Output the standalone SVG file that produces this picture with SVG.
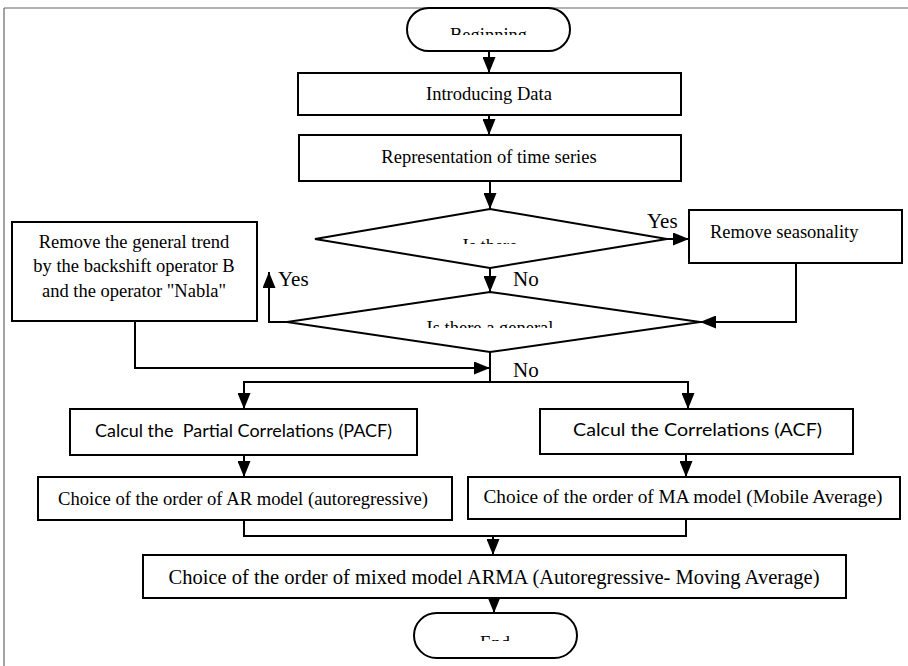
<svg xmlns="http://www.w3.org/2000/svg" width="908" height="666" viewBox="0 0 908 666">
<style>
.box{fill:#fff;stroke:#000;stroke-width:2}
.t{font-family:"Liberation Serif","Times New Roman",serif;font-size:18.5px;fill:#000;text-anchor:middle}
.s{font-family:Lato,"Liberation Sans",sans-serif;font-size:17px;fill:#000;text-anchor:middle}
.lbl{font-family:"Liberation Serif","Times New Roman",serif;font-size:21px;fill:#000}
.c{fill:none;stroke:#000;stroke-width:2}
.frame{fill:none;stroke:#666;stroke-width:1.2}
</style>
<defs>
<marker id="ah" markerUnits="userSpaceOnUse" markerWidth="16" markerHeight="13" refX="16" refY="6.5" orient="auto">
<path d="M0,0 L16,6.5 L0,13 z" fill="#000"/>
</marker>
<clipPath id="cBeg"><rect x="400" y="0" width="180" height="35"/></clipPath>
<clipPath id="cD1"><rect x="400" y="230" width="180" height="14"/></clipPath>
<clipPath id="cD2"><rect x="400" y="310" width="180" height="18"/></clipPath>
<clipPath id="cEnd"><rect x="400" y="620" width="180" height="21"/></clipPath>
</defs>
<g id="frame">
<line class="frame" x1="4" y1="8" x2="908" y2="8"/>
<line class="frame" x1="4" y1="8" x2="4" y2="666"/>
</g>
<g id="connectors">
<line class="c" x1="489" y1="51" x2="489" y2="73" marker-end="url(#ah)"/>
<line class="c" x1="489" y1="115" x2="489" y2="135" marker-end="url(#ah)"/>
<line class="c" x1="490" y1="181" x2="490" y2="209" marker-end="url(#ah)"/>
<line class="c" x1="667" y1="239" x2="689" y2="239" marker-end="url(#ah)"/>
<polyline class="c" points="796,263 796,322 700,322" marker-end="url(#ah)"/>
<line class="c" x1="490" y1="268" x2="490" y2="292" marker-end="url(#ah)"/>
<polyline class="c" points="287,322 269,322 269,272" marker-end="url(#ah)"/>
<polyline class="c" points="135,321 135,368 490,368" marker-end="url(#ah)"/>
<line class="c" x1="490" y1="352" x2="490" y2="382"/>
<polyline class="c" points="244,409 244,382 688,382 688,409"/>
<line class="c" x1="244" y1="382" x2="244" y2="409" marker-end="url(#ah)"/>
<line class="c" x1="688" y1="382" x2="688" y2="409" marker-end="url(#ah)"/>
<line class="c" x1="244" y1="455" x2="244" y2="477" marker-end="url(#ah)"/>
<line class="c" x1="686" y1="454" x2="686" y2="477" marker-end="url(#ah)"/>
<polyline class="c" points="244,520 244,536 686,536 686,519"/>
<line class="c" x1="493" y1="536" x2="493" y2="555" marker-end="url(#ah)"/>
<line class="c" x1="494" y1="598" x2="494" y2="613" marker-end="url(#ah)"/>
<text class="lbl" x="647" y="228">Yes</text>
<text class="lbl" x="513" y="286">No</text>
<text class="lbl" x="278" y="286">Yes</text>
<text class="lbl" x="513" y="377">No</text>
</g>
<g id="begin">
<rect class="box" x="407" y="8" width="163" height="43" rx="21.5"/>
<text class="t" x="488.5" y="41" clip-path="url(#cBeg)">Beginning</text>
</g>
<g id="intro">
<rect class="box" x="298" y="73" width="383" height="42"/>
<text class="t" x="489" y="100">Introducing Data</text>
</g>
<g id="repr">
<rect class="box" x="299" y="135" width="382" height="46"/>
<text class="t" x="489" y="163">Representation of time series</text>
</g>
<g id="season-q">
<polygon class="box" points="490,209 667,239 490,268 315,239"/>
<text class="t" x="490" y="252" clip-path="url(#cD1)">Is there</text>
</g>
<g id="remove-season">
<rect class="box" x="689" y="210" width="213" height="53"/>
<text class="t" x="710" y="238" style="text-anchor:start">Remove seasonality</text>
</g>
<g id="trend-q">
<polygon class="box" points="490,292 700,322 490,352 287,322"/>
<text class="t" x="490" y="334" clip-path="url(#cD2)">Is there a general</text>
</g>
<g id="remove-trend">
<rect class="box" x="12" y="222" width="245" height="99"/>
<text class="t" x="134" y="248">Remove the general trend</text>
<text class="t" x="134" y="272">by the backshift operator B</text>
<text class="t" x="134" y="297">and the operator "Nabla"</text>
</g>
<g id="pacf">
<rect class="box" x="70" y="409" width="347" height="46"/>
<text class="s" x="243.5" y="437" xml:space="preserve" textLength="297" lengthAdjust="spacingAndGlyphs">Calcul the  Partial Correlations (PACF)</text>
</g>
<g id="acf">
<rect class="box" x="540" y="409" width="313" height="45"/>
<text class="s" x="697.5" y="436" textLength="249" lengthAdjust="spacingAndGlyphs">Calcul the Correlations (ACF)</text>
</g>
<g id="ar">
<rect class="box" x="38" y="477" width="414" height="43"/>
<text class="t" x="243" y="505" textLength="370" lengthAdjust="spacingAndGlyphs">Choice of the order of AR model (autoregressive)</text>
</g>
<g id="ma">
<rect class="box" x="468" y="477" width="432" height="42"/>
<text class="t" x="683" y="503" textLength="399" lengthAdjust="spacingAndGlyphs">Choice of the order of MA model (Mobile Average)</text>
</g>
<g id="arma">
<rect class="box" x="143" y="555" width="703" height="43"/>
<text class="t" x="494" y="584" style="font-size:20px" textLength="651" lengthAdjust="spacingAndGlyphs">Choice of the order of mixed model ARMA (Autoregressive- Moving Average)</text>
</g>
<g id="end">
<rect class="box" x="414" y="613" width="163" height="45" rx="22.5"/>
<text class="t" x="495" y="649" clip-path="url(#cEnd)">End</text>
</g>
</svg>
